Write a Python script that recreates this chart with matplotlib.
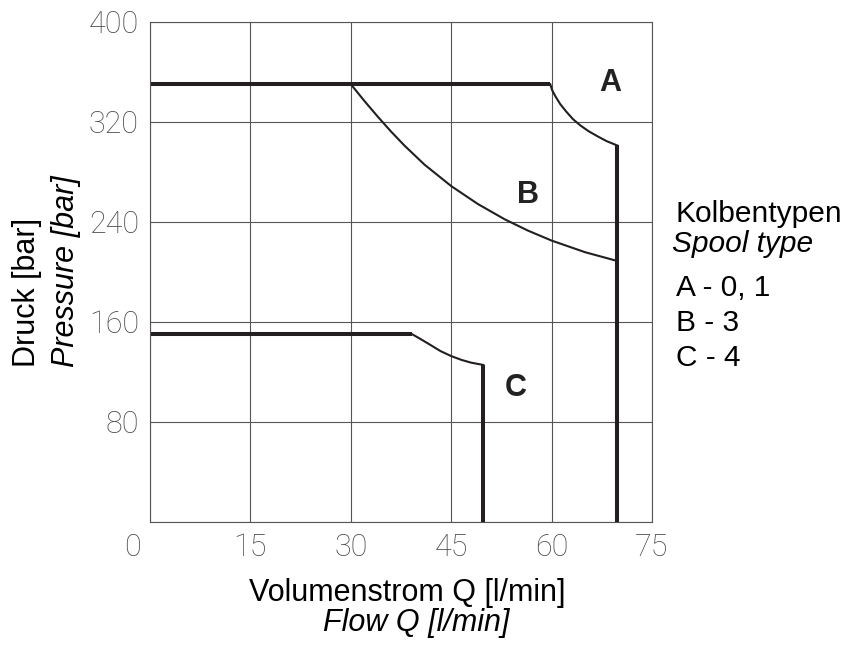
import matplotlib
matplotlib.use("Agg")
import matplotlib.pyplot as plt
from matplotlib.transforms import ScaledTranslation

# ---- data ----
q_ticks = [0, 15, 30, 45, 60, 75]
p_ticks = [0, 80, 160, 240, 320, 400]
p_tick_labels = ["", "80", "160", "240", "320", "400"]

# Curve A (spool types 0, 1)
a_q = [0, 59.8, 60.1, 60.6, 61.3, 62.2, 63.2, 64.3, 65.5, 66.8, 68.2, 69.8, 69.8]
a_p = [350, 350, 345, 340, 334, 328, 322, 317, 312.5, 308.5, 304.5, 301, 0]

# Curve B (spool type 3)
b_q = [30, 32, 34, 36, 38, 41, 45, 49, 53, 56.5, 60, 65, 69.8]
b_p = [350, 336.8, 324.2, 312.2, 301.0, 285.7, 268.5, 254.1, 241.9, 232.8, 224.9, 215.6, 208.6]

# Curve C (spool type 4)
c_q = [0, 39.1, 40.3, 41.9, 43.4, 45, 46.5, 48, 49.8, 49.8]
c_p = [150.2, 150.2, 146.5, 141.4, 136.5, 132.5, 129.5, 127.2, 125.4, 0]

curve_labels = ["A", "B", "C"]
curve_label_pos_q = [68.8, 56.5, 54.6]
curve_label_pos_p = [350.6, 261, 106.6]

legend_lines = ["Kolbentypen", "Spool type", "A - 0, 1", "B - 3", "C - 4"]

# ---- figure ----
fig = plt.figure(figsize=(8.49, 6.46), dpi=100)
ax = fig.add_axes([150 / 849, 1 - 521.7 / 646, 502 / 849, 500 / 646])

grid_c = "#555555"
line_c = "#231f20"
thick = 2.9
thin = 1.5

ax.set_xlim(0, 75)
ax.set_ylim(0, 400)
ax.set_xticks(q_ticks)
ax.set_yticks(p_ticks)
ax.set_yticklabels(p_tick_labels)
ax.grid(True, color=grid_c, linewidth=0.8)
ax.set_axisbelow(True)
for s in ax.spines.values():
    s.set_color(grid_c)
    s.set_linewidth(0.8)
ax.tick_params(length=0, pad=8, labelsize=22, labelcolor="#4a4a4a")
for lab in ax.get_xticklabels() + ax.get_yticklabels():
    lab.set_fontfamily(["Roboto", "DejaVu Sans"])
    lab.set_fontweight("light")

# shift the x "0" label left like in the reference
xl = ax.get_xticklabels()
xl[0].set_transform(xl[0].get_transform() + ScaledTranslation(-0.17, 0, fig.dpi_scale_trans))

# curve A
ax.plot(a_q[:2], a_p[:2], color=line_c, lw=thick, solid_capstyle="butt")
ax.plot(a_q[1:-1], a_p[1:-1], color=line_c, lw=thin)
ax.plot(a_q[-2:], a_p[-2:], color=line_c, lw=thick, solid_capstyle="butt")
# curve B
ax.plot(b_q, b_p, color=line_c, lw=thin)
# curve C
ax.plot(c_q[:2], c_p[:2], color=line_c, lw=thick, solid_capstyle="butt")
ax.plot(c_q[1:-1], c_p[1:-1], color=line_c, lw=thin)
ax.plot(c_q[-2:], c_p[-2:], color=line_c, lw=thick, solid_capstyle="butt")

for lab, q, p in zip(curve_labels, curve_label_pos_q, curve_label_pos_p):
    ax.text(q, p, lab, fontsize=22, fontweight="bold", color="#222222",
            family="Liberation Sans", ha="center", va="center")

sans = "Liberation Sans"
fs = 22
# y axis labels
fig.text(27 / 849, 1 - 367 / 646, "Druck [bar]", rotation=90, fontsize=fs,
         family=sans, ha="center", va="bottom")
fig.text(66 / 849, 1 - 367 / 646, "Pressure [bar]", rotation=90, fontsize=fs,
         family=sans, style="italic", ha="center", va="bottom")
# x axis labels
fig.text(407.5 / 849, 1 - 593 / 646, "Volumenstrom Q [l/min]", fontsize=fs,
         family=sans, ha="center", va="center")
fig.text(416 / 849, 1 - 623 / 646, "Flow Q [l/min]", fontsize=fs,
         family=sans, style="italic", ha="center", va="center")

# legend text
leg_x = [676, 672, 676, 676, 676]
leg_y = [214, 244, 288, 323, 358]
leg_style = ["normal", "italic", "normal", "normal", "normal"]
for t, x, y, st in zip(legend_lines, leg_x, leg_y, leg_style):
    fig.text(x / 849, 1 - y / 646, t, fontsize=21.5, family=sans, style=st,
             ha="left", va="center")

fig.savefig("out.png", dpi=100)
